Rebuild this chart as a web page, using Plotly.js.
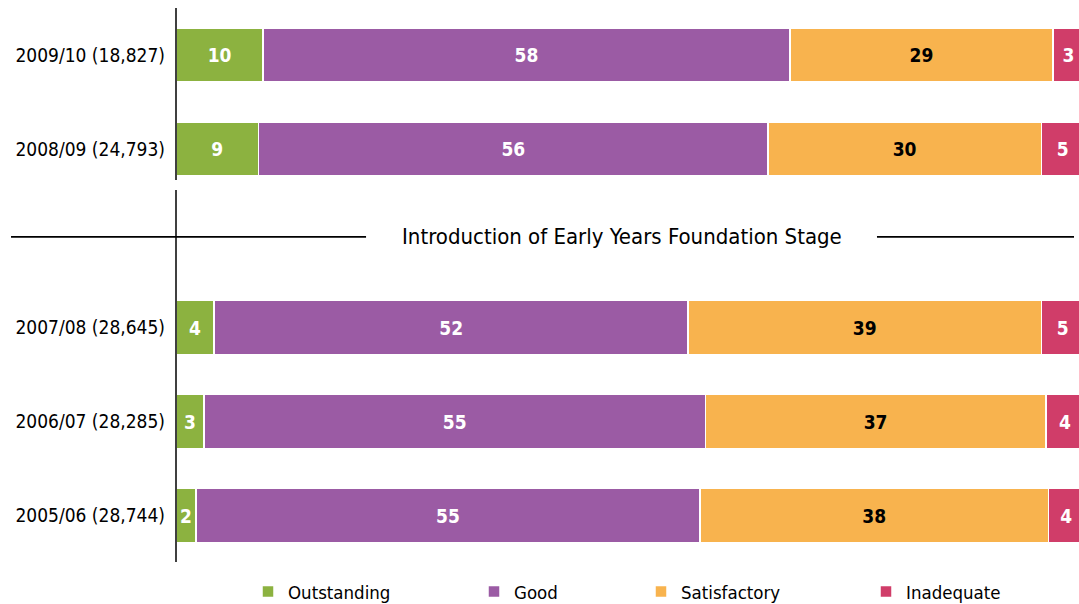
<!DOCTYPE html>
<html>
<head>
<meta charset="utf-8">
<script src="https://cdn.plot.ly/plotly-3.0.1.min.js"></script>
<style>
html,body{margin:0;padding:0;overflow:hidden;background:#fff;}
#chart{width:1090px;height:604px;}
</style>
</head>
<body>
<div id="chart"></div>
<script>
// ---- data (top to bottom) ----
var categories = ["2009/10 (18,827)", "2008/09 (24,793)", "2007/08 (28,645)", "2006/07 (28,285)", "2005/06 (28,744)"];
var seriesNames = ["Outstanding", "Good", "Satisfactory", "Inadequate"];
var outstanding  = [9.6, 9.1, 4.2, 3.1, 2.2];
var good         = [58.0, 56.1, 52.2, 55.2, 55.5];
var satisfactory = [29.0, 30.1, 38.9, 37.5, 38.4];
var inadequate   = [3.4, 4.7, 4.7, 4.2, 3.9];
var outstandingLabels  = ["10", "9", "4", "3", "2"];
var goodLabels         = ["58", "56", "52", "55", "55"];
var satisfactoryLabels = ["29", "30", "39", "37", "38"];
var inadequateLabels   = ["3", "5", "5", "4", "4"];
var separatorText = "Introduction of Early Years Foundation Stage";

// ---- layout helpers ----
var rowPos = [0, 1, 2.9, 3.9, 4.9];
var sepPos = 1.936;
var FONT = "'DejaVu Sans Condensed', 'DejaVu Sans', Verdana, sans-serif";
var colors = ["#8cb240", "#9b5ba4", "#f8b34e", "#d03d69"];
var textColors = ["#ffffff", "#ffffff", "#000000", "#ffffff"];
var values = [outstanding, good, satisfactory, inadequate];
var labels = [outstandingLabels, goodLabels, satisfactoryLabels, inadequateLabels];
var legendNames = ["legend", "legend2", "legend3", "legend4"];

var traces = seriesNames.map(function (name, i) {
  return {
    type: "bar",
    orientation: "h",
    name: name,
    x: values[i],
    y: rowPos,
    width: 0.574,
    text: labels[i],
    textposition: "inside",
    insidetextanchor: "middle",
    textangle: 0,
    constraintext: "none",
    insidetextfont: {family: FONT, size: 19, color: textColors[i], weight: "bold"},
    marker: {color: colors[i], line: {color: "#ffffff", width: 1.5}},
    hoverinfo: "name+x",
    legend: legendNames[i]
  };
});

function legendAt(px) {
  return {
    orientation: "h",
    x: (px - 176) / 908,
    xanchor: "left",
    y: -0.054,
    yanchor: "middle",
    font: {family: FONT, size: 18.5, color: "#000"},
    bgcolor: "rgba(0,0,0,0)",
    itemwidth: 30
  };
}

var layout = {
  width: 1090,
  height: 604,
  margin: {l: 176, r: 6, t: 8, b: 42, autoexpand: false},
  paper_bgcolor: "#ffffff",
  plot_bgcolor: "#ffffff",
  barmode: "stack",
  bargap: 0,
  showlegend: true,
  legend: legendAt(248),
  legend2: legendAt(474),
  legend3: legendAt(641),
  legend4: legendAt(866),
  xaxis: {range: [0, 100], visible: false, fixedrange: true},
  yaxis: {
    range: [5.394, -0.5],
    tickvals: rowPos,
    ticktext: categories,
    showgrid: false,
    zeroline: false,
    showline: false,
    ticks: "",
    ticklabelstandoff: 10,
    tickfont: {family: FONT, size: 19, color: "#000"},
    fixedrange: true
  },
  shapes: [
    {type: "line", xref: "paper", yref: "paper", x0: 0, x1: 0, y0: 1, y1: 0.6895, line: {color: "#000", width: 1.5}},
    {type: "line", xref: "paper", yref: "paper", x0: 0, x1: 0, y0: 0.6715, y1: 0, line: {color: "#000", width: 1.5}},
    {type: "line", xref: "paper", yref: "y", x0: -0.1817, x1: 0.2093, y0: sepPos, y1: sepPos, line: {color: "#000", width: 1.8}},
    {type: "line", xref: "paper", yref: "y", x0: 0.772, x1: 0.989, y0: sepPos, y1: sepPos, line: {color: "#000", width: 1.8}}
  ],
  annotations: [
    {xref: "paper", yref: "y", x: 0.491, y: sepPos, text: separatorText, showarrow: false,
     xanchor: "center", yanchor: "middle", font: {family: FONT, size: 22, color: "#000"}}
  ]
};

Plotly.newPlot("chart", traces, layout, {displayModeBar: false, staticPlot: true});
</script>
</body>
</html>
